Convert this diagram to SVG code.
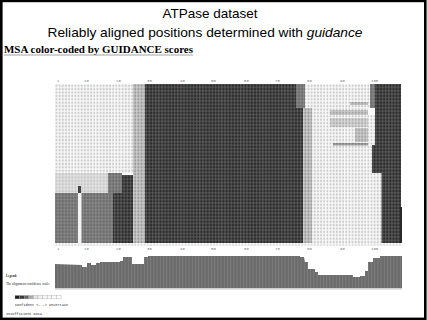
<svg xmlns="http://www.w3.org/2000/svg" width="427" height="320" viewBox="0 0 427 320">
<style>
.title{font-family:"Liberation Sans",Arial,sans-serif;font-size:13.5px;fill:#000;text-anchor:middle}
.sub{font-family:"Liberation Serif","Times New Roman",serif;font-size:9.5px;font-weight:bold;fill:#000}
.ruler{font-family:"Liberation Mono",monospace;font-size:4px;fill:#777}
.tiny{font-family:"Liberation Serif",serif;font-size:3.8px;fill:#222}
.mono{font-family:"Liberation Mono",monospace;font-size:3.9px;fill:#222}
</style>
<defs>
<pattern id="pDark" x="55" y="84" width="3.15" height="3.4" patternUnits="userSpaceOnUse"><rect width="3.15" height="3.4" fill="#6a6a6a"/><rect x="0.3" y="0.3" width="2.4" height="2.7" fill="#2a2a2a"/></pattern>
<pattern id="pLight" x="55" y="84" width="3.15" height="3.4" patternUnits="userSpaceOnUse"><rect width="3.15" height="3.4" fill="#fbfbfb"/><rect x="0.5" y="0.6" width="1.9" height="2.2" fill="#cbcbcb"/></pattern>
<pattern id="pLGray" x="55" y="84" width="3.15" height="3.4" patternUnits="userSpaceOnUse"><rect width="3.15" height="3.4" fill="#d4d4d4"/><rect x="0.4" y="0.4" width="2.2" height="2.5" fill="#9a9a9a"/></pattern>
<pattern id="pMid" x="55" y="84" width="3.15" height="3.4" patternUnits="userSpaceOnUse"><rect width="3.15" height="3.4" fill="#939393"/><rect x="0.3" y="0.3" width="2.4" height="2.7" fill="#6a6a6a"/></pattern>
<pattern id="pBar" x="55" y="250" width="3.2" height="40" patternUnits="userSpaceOnUse"><rect width="3.2" height="40" fill="#6c6c6c"/><rect x="2.6" width="0.6" height="40" fill="#858585"/></pattern>
</defs>
<rect width="427" height="320" fill="#fff"/>
<rect x="1.3" y="0.9" width="424" height="318" fill="none" stroke="#000" stroke-width="2.6"/>

<g id="titles">
<text class="title" x="210" y="18">ATPase dataset</text>
<text class="title" x="205" y="37" textLength="315" lengthAdjust="spacingAndGlyphs">Reliably aligned positions determined with <tspan font-style="italic">guidance</tspan></text>
<text class="sub" x="4" y="53" textLength="189" lengthAdjust="spacingAndGlyphs">MSA color-coded by GUIDANCE scores</text>
<line x1="4" y1="55" x2="193" y2="55" stroke="#999" stroke-width="0.9"/>
</g>

<g id="ruler-top">
<text class="ruler" x="57" y="82">1</text>
<text class="ruler" x="84" y="82">10</text>
<text class="ruler" x="116" y="82">20</text>
<text class="ruler" x="147" y="82">30</text>
<text class="ruler" x="180" y="82">40</text>
<text class="ruler" x="211" y="82">50</text>
<text class="ruler" x="244" y="82">60</text>
<text class="ruler" x="275" y="82">70</text>
<text class="ruler" x="307" y="82">80</text>
<text class="ruler" x="340" y="82">90</text>
<text class="ruler" x="371" y="82">100</text>
</g>

<g id="msa">
<rect x="55" y="84" width="78" height="89" fill="url(#pLight)"/>
<rect x="55" y="173" width="55" height="20" fill="url(#pLGray)" opacity="0.55"/>
<rect x="108" y="173" width="14" height="20" fill="url(#pMid)"/>
<rect x="55" y="193" width="58" height="50" fill="url(#pMid)"/>
<rect x="78" y="193" width="3.5" height="50" fill="#f4f4f4"/>
<rect x="78" y="186" width="3" height="7" fill="#444"/>
<rect x="113" y="193" width="20" height="50" fill="url(#pDark)"/>
<rect x="122" y="175" width="11" height="18" fill="url(#pDark)"/>
<rect x="133" y="84" width="12" height="159" fill="url(#pLGray)"/>
<rect x="145" y="84" width="151" height="159" fill="url(#pDark)"/>
<rect x="296" y="108" width="7" height="135" fill="url(#pDark)"/>
<rect x="296" y="84" width="9" height="24" fill="url(#pMid)"/>
<rect x="303" y="108" width="9" height="135" fill="url(#pLGray)"/>
<rect x="305" y="84" width="65" height="24" fill="url(#pLight)"/>
<rect x="312" y="108" width="56" height="135" fill="url(#pLight)"/>
<rect x="350" y="102" width="18" height="3" fill="url(#pMid)" opacity="0.45"/>
<rect x="330" y="110" width="38" height="5" fill="url(#pMid)" opacity="0.4"/>
<rect x="330" y="118" width="38" height="9" fill="url(#pMid)" opacity="0.3"/>
<rect x="355" y="128" width="13" height="14" fill="url(#pMid)" opacity="0.4"/>
<rect x="333" y="143" width="35" height="2.5" fill="url(#pMid)" opacity="0.75"/>
<rect x="368" y="108" width="7" height="37" fill="#fafafa"/>
<rect x="368" y="115" width="7" height="30" fill="url(#pLight)"/>
<rect x="368" y="145" width="4" height="28" fill="url(#pLight)"/>
<rect x="368" y="173" width="13.5" height="70" fill="url(#pLight)"/>
<rect x="370" y="84" width="5" height="24" fill="url(#pMid)"/>
<rect x="375" y="84" width="26" height="61" fill="url(#pDark)"/>
<rect x="372" y="145" width="29" height="28" fill="url(#pDark)"/>
<rect x="381.5" y="173" width="19.5" height="70" fill="url(#pDark)"/>
<rect x="400" y="207" width="2" height="36" fill="#2a2a2a"/>
<rect x="55" y="243" width="346" height="2.6" fill="url(#pLight)"/>
</g>

<g id="ruler-bottom">
<text class="ruler" x="57" y="249.5">1</text>
<text class="ruler" x="84" y="249.5">10</text>
<text class="ruler" x="116" y="249.5">20</text>
<text class="ruler" x="147" y="249.5">30</text>
<text class="ruler" x="180" y="249.5">40</text>
<text class="ruler" x="211" y="249.5">50</text>
<text class="ruler" x="244" y="249.5">60</text>
<text class="ruler" x="275" y="249.5">70</text>
<text class="ruler" x="307" y="249.5">80</text>
<text class="ruler" x="340" y="249.5">90</text>
<text class="ruler" x="371" y="249.5">100</text>
</g>

<g id="confidence-bars">
<polygon fill="url(#pBar)" points="55,288 55,264 82,265 82,267 87,267 87,263 91,263 91,265 96,265 96,263 100,263 100,262 120,262 120,261 123,261 123,257 132,257 132,264 144,264 144,257 148,257 148,256 300,256 300,257 304,257 305,262 308,262 308,269 315,269 315,272 318,272 318,275 353,275 353,277 360,277 360,276 365,276 365,271 368,271 368,262 373,262 373,258 380,258 380,256 402,256 402,288"/>
<rect x="55" y="288" width="347" height="1.6" fill="#cfcfcf"/>
</g>

<g id="legend">
<text class="tiny" x="6" y="277" font-weight="bold" textLength="11" lengthAdjust="spacingAndGlyphs">Legend:</text>
<text class="tiny" x="6" y="284.5" textLength="44" lengthAdjust="spacingAndGlyphs">The alignment confidence scale:</text>
<g id="scale" stroke="#999" stroke-width="0.3">
<rect x="15" y="295.5" width="4.6" height="3.4" fill="#1c1c1c"/>
<rect x="19.6" y="295.5" width="4.6" height="3.4" fill="#3a3a3a"/>
<rect x="24.2" y="295.5" width="4.6" height="3.4" fill="#666"/>
<rect x="28.8" y="295.5" width="4.6" height="3.4" fill="#aaa"/>
<rect x="33.4" y="295.5" width="4.6" height="3.4" fill="#e6e6e6"/>
<rect x="38" y="295.5" width="4.6" height="3.4" fill="#f2f2f2"/>
<rect x="42.6" y="295.5" width="4.6" height="3.4" fill="#f6f6f6"/>
<rect x="47.2" y="295.5" width="4.6" height="3.4" fill="#f8f8f8"/>
<rect x="51.8" y="295.5" width="4.6" height="3.4" fill="#fafafa"/>
<rect x="56.4" y="295.5" width="4.6" height="3.4" fill="#fcfcfc"/>
</g>
<text class="mono" x="15" y="306" textLength="53" lengthAdjust="spacingAndGlyphs">Confident  &lt;---&gt;  Uncertain</text>
<text class="mono" x="6" y="314.5" textLength="36" lengthAdjust="spacingAndGlyphs">Insufficient Data</text>
</g>
</svg>
